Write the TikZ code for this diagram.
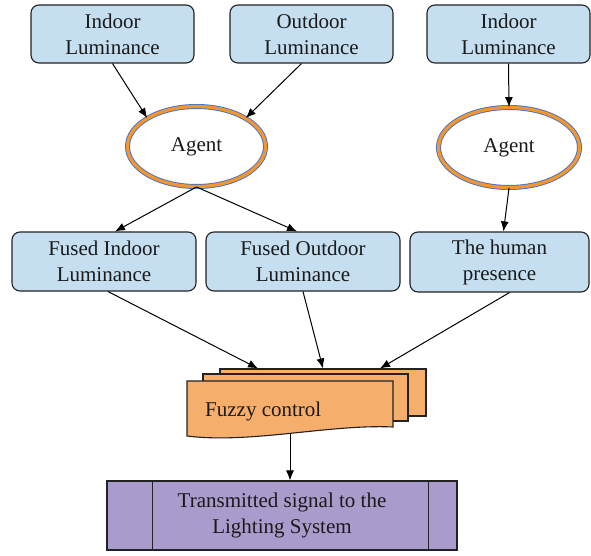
\documentclass[tikz,border=0pt]{standalone}
\usepackage{fontspec}
\setmainfont{Liberation Serif}
\usetikzlibrary{shapes.geometric,arrows.meta,calc}
\definecolor{boxblue}{HTML}{C5DEF0}
\definecolor{ringblue}{HTML}{4472C4}
\definecolor{ringorange}{HTML}{F3962F}
\definecolor{fuzzyorange}{HTML}{F6AE6D}
\definecolor{sigpurple}{HTML}{A99BCB}
\definecolor{linec}{HTML}{222222}
\definecolor{textc}{HTML}{1A1A1A}
\begin{document}
\begin{tikzpicture}[x=1pt,y=-1pt,
  txt/.style={font=\fontsize{21}{26}\selectfont, text=textc},
  box/.style={txt, draw=linec, fill=boxblue, rounded corners=8pt, line width=1.1pt,
    minimum height=58pt, inner sep=0pt, align=center},
  agent/.style={txt, ellipse, draw=ringblue, double=ringorange, double distance=3.2pt,
    line width=0.9pt, fill=white, minimum width=138pt, minimum height=80pt, inner sep=0pt},
  layer/.style={draw=linec, fill=fuzzyorange, line width=1.1pt, inner sep=0pt,
    minimum width=206pt, minimum height=47pt},
  arr/.style={-{Latex[length=10pt,width=8pt]}, line width=1pt, draw=black},
]
\useasboundingbox (0,0) rectangle (591,556);

% top row
\node[box, minimum width=163pt] (b1) at (112.5,34) {Indoor\\Luminance};
\node[box, minimum width=163pt] (b2) at (311.5,34) {Outdoor\\Luminance};
\node[box, minimum width=163pt] (b3) at (508.5,34) {Indoor\\Luminance};

% agents
\node[agent] (e1) at (196.5,146.5) {Agent};
\node[agent, minimum width=141pt] (e2) at (509,147.5) {Agent};

% middle row
\node[box, minimum width=184pt, minimum height=59pt] (fi) at (104,261.5) {Fused Indoor\\Luminance};
\node[box, minimum width=194pt, minimum height=59pt] (fo) at (303,261.5) {Fused Outdoor\\Luminance};
\node[box, minimum width=179pt, minimum height=60pt] (hp) at (499.5,262) {The human\\presence};

% fuzzy control stack
\node[layer] (fz3) at (323,392.5) {};
\node[layer, minimum width=205pt] (fz2) at (305.5,397.5) {};
\draw[draw=linec, fill=fuzzyorange, line width=1.1pt]
  (187,381) -- (393,381) -- (393,427) .. controls (330,424) and (250,444) .. (187,436) -- cycle;
\node[txt, anchor=west, inner sep=0pt] (fzt) at (205,411) {Fuzzy control};
\coordinate (fzb) at (290,434);

% output
\node[txt, draw=linec, fill=sigpurple, line width=1.1pt, minimum width=350pt,
  minimum height=69pt, inner sep=0pt, align=center] (sig) at (282,515.5)
  {Transmitted signal to the\\Lighting System};
\draw[draw=linec, line width=1.1pt] ([xshift=46pt]sig.north west) -- ([xshift=46pt]sig.south west);
\draw[draw=linec, line width=1.1pt] ([xshift=-29pt]sig.north east) -- ([xshift=-29pt]sig.south east);

% connectors
\draw[arr] (b1.south) -- (e1.150);
\draw[arr] ([xshift=-10pt]b2.south) -- (e1.30);
\draw[arr] (b3.south) -- (e2.north);
\draw[arr] (e1.south) -- ([xshift=11pt]fi.north);
\draw[arr] (e1.south) -- ([xshift=-6pt]fo.north);
\draw[arr] (e2.south) -- ([xshift=4pt]hp.north);
\draw[arr] ([xshift=4pt]fi.south) -- ([xshift=-65pt]fz3.north);
\draw[arr] (fo.south) -- (fz3.north);
\draw[arr] ([xshift=10pt]hp.south) -- ([xshift=57pt]fz3.north);
\draw[arr] (fzb) -- (fzb |- sig.north);
\end{tikzpicture}
\end{document}
